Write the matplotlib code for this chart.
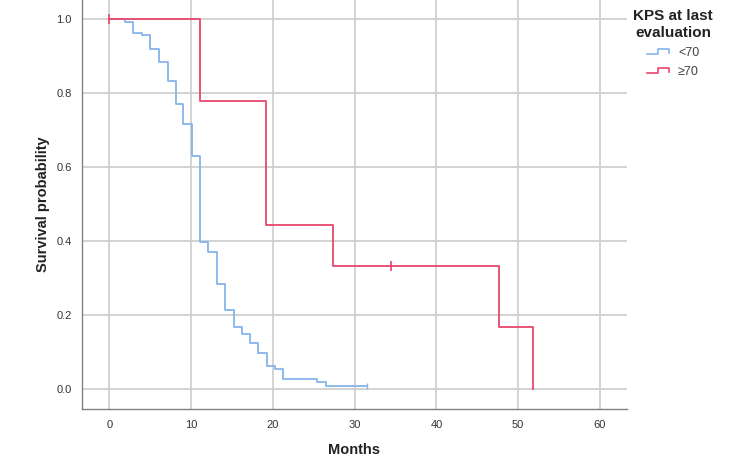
import matplotlib
matplotlib.use("Agg")
import matplotlib.pyplot as plt
from matplotlib.legend_handler import HandlerBase
from matplotlib.lines import Line2D

plt.rcParams['font.family'] = ['Liberation Sans', 'DejaVu Sans']

# ---- data ----
# KPS < 70 group
low_times = [0, 1.92, 2.93, 3.96, 4.98, 6.08, 7.14, 8.15, 9.05, 10.07, 11.09,
             12.13, 13.13, 14.18, 15.21, 16.22, 17.24, 18.22, 19.24, 20.26,
             21.27, 25.43, 26.45, 31.47]
low_surv = [1.0, 0.991, 0.963, 0.957, 0.919, 0.885, 0.832, 0.770, 0.716, 0.630,
            0.398, 0.371, 0.284, 0.2135, 0.168, 0.150, 0.1235, 0.098, 0.063,
            0.053, 0.027, 0.018, 0.009, 0.009]
low_censor_t = [31.47]
low_censor_s = [0.009]

# KPS >= 70 group
high_times = [0, 11.1, 19.2, 27.4, 47.7, 51.75]
high_surv = [1.0, 0.778, 0.444, 0.333, 0.167, 0.0]
high_censor_t = [0, 34.5]
high_censor_s = [1.0, 0.333]

x_ticks = [0, 10, 20, 30, 40, 50, 60]
y_ticks = [0.0, 0.2, 0.4, 0.6, 0.8, 1.0]
labels = ['<70', '\u226570']

BLUE = '#86B4EC'
RED = '#E6476B'

fig = plt.figure(figsize=(7.5, 4.58), dpi=100)
ax = fig.add_axes([0.1089, 0.107, 0.836 - 0.1089, 0.893])

ax.step(low_times, low_surv, where='post', color=BLUE, lw=1.3, zorder=3)
ax.plot(low_censor_t, low_censor_s, ls='none', marker='|', ms=4, mew=1.0,
        color=BLUE, zorder=3)
ax.step(high_times, high_surv, where='post', color=RED, lw=1.3, zorder=4)
ax.plot(high_censor_t, high_censor_s, ls='none', marker='|', ms=7, mew=1.2,
        color=RED, zorder=4)

ax.set_xlim(-3.37, 63.3)
ax.set_ylim(-0.054, 1.0514)
ax.set_xticks(x_ticks)
ax.set_yticks(y_ticks)
ax.set_yticklabels([f'{v:.1f}' for v in y_ticks])
ax.grid(True, color='#D0D0D0', lw=1.3, zorder=0)
ax.set_axisbelow(True)
ax.tick_params(axis='both', length=0, labelsize=8, labelcolor='#333333')
ax.tick_params(axis='x', pad=8)
ax.tick_params(axis='y', pad=7)
for s in ['top', 'right']:
    ax.spines[s].set_visible(False)
for s in ['left', 'bottom']:
    ax.spines[s].set_color('#808080')
    ax.spines[s].set_linewidth(1.0)

ax.set_xlabel('Months', fontsize=10.5, fontweight='bold', color='#222222', labelpad=9)
ax.set_ylabel('Survival probability', fontsize=10.5, fontweight='bold',
              color='#222222', labelpad=5)


class StepHandler(HandlerBase):
    def create_artists(self, legend, orig_handle, xdescent, ydescent, width,
                       height, fontsize, trans):
        x0 = -xdescent
        y0 = -ydescent
        lo = y0 + height * 0.2
        hi = y0 + height * 0.75
        xs = [x0, x0 + width * 0.5, x0 + width * 0.5, x0 + width, x0 + width]
        ys = [lo, lo, hi, hi, lo + height * 0.1]
        ln = Line2D(xs, ys, color=orig_handle.get_color(), lw=1.2,
                    transform=trans)
        return [ln]


handles = [Line2D([], [], color=BLUE), Line2D([], [], color=RED)]
leg = fig.legend(handles, labels, title='KPS at last\nevaluation',
                 loc='upper center', bbox_to_anchor=(673 / 750, 1.0),
                 frameon=False, fontsize=9, handlelength=1.8, handletextpad=0.7,
                 labelspacing=0.55, borderpad=0.25, alignment='center',
                 handler_map={Line2D: StepHandler()})
title = leg.get_title()
title.set_fontweight('bold')
title.set_fontsize(11)
title.set_color('#222222')
title.set_multialignment('center')
title.set_linespacing(1.25)
for t in leg.get_texts():
    t.set_color('#444444')

fig.savefig('out.png', dpi=100)
